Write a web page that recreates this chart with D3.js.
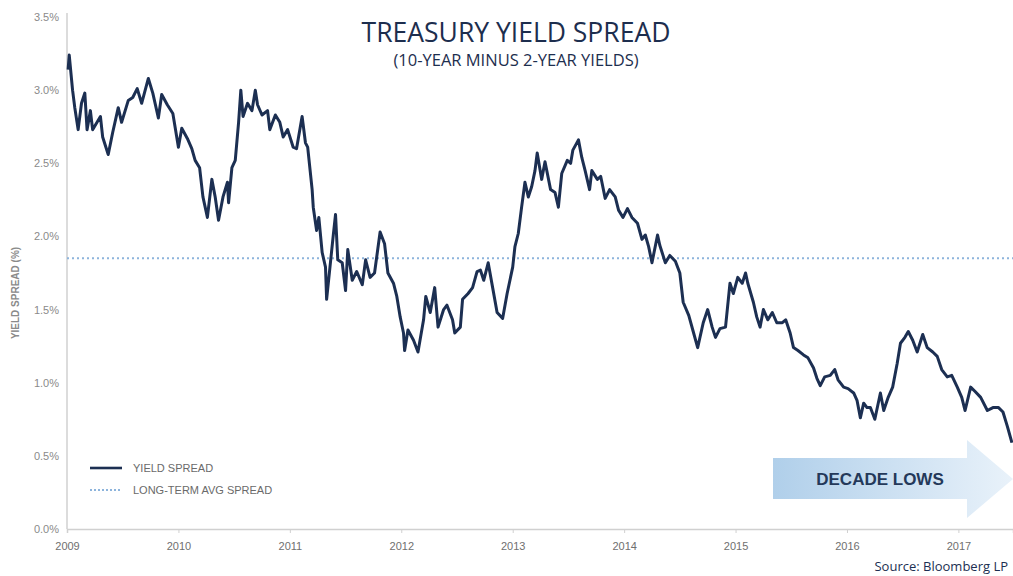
<!DOCTYPE html>
<html>
<head>
<meta charset="utf-8">
<script src="https://cdn.jsdelivr.net/npm/d3@7"></script>
<style>
  html, body { margin: 0; padding: 0; background: #fff; }
  svg { display: block; }
</style>
</head>
<body>
<svg id="chart" width="1013" height="576"></svg>
<script>
// decimal year of each reading
const dates = [
  2009.01, 2009.02, 2009.05, 2009.07, 2009.10, 2009.13, 2009.16, 2009.18, 2009.21, 2009.23,
  2009.30, 2009.32, 2009.37, 2009.41, 2009.46, 2009.49, 2009.55, 2009.59, 2009.63, 2009.67,
  2009.73, 2009.77, 2009.82, 2009.85, 2009.90, 2009.95, 2010.00, 2010.03, 2010.08, 2010.12,
  2010.15, 2010.19, 2010.22, 2010.26, 2010.30, 2010.33, 2010.36, 2010.40, 2010.44, 2010.45,
  2010.48, 2010.51, 2010.54, 2010.56, 2010.58, 2010.62, 2010.66, 2010.69, 2010.71, 2010.75,
  2010.80, 2010.82, 2010.87, 2010.91, 2010.94, 2010.98, 2011.03, 2011.06, 2011.11, 2011.14,
  2011.16, 2011.20, 2011.21, 2011.24, 2011.26, 2011.29, 2011.32, 2011.33, 2011.36, 2011.39,
  2011.41, 2011.43, 2011.47, 2011.50, 2011.52, 2011.56, 2011.60, 2011.65, 2011.68, 2011.72,
  2011.76, 2011.81, 2011.85, 2011.88, 2011.93, 2011.96, 2011.99, 2012.02, 2012.03, 2012.06,
  2012.11, 2012.15, 2012.20, 2012.22, 2012.26, 2012.30, 2012.33, 2012.38, 2012.41, 2012.46,
  2012.48, 2012.53, 2012.55, 2012.60, 2012.64, 2012.68, 2012.71, 2012.74, 2012.78, 2012.82,
  2012.86, 2012.91, 2012.95, 2013.00, 2013.02, 2013.05, 2013.08, 2013.11, 2013.14, 2013.17,
  2013.20, 2013.22, 2013.26, 2013.29, 2013.34, 2013.38, 2013.41, 2013.44, 2013.49, 2013.52,
  2013.54, 2013.59, 2013.62, 2013.65, 2013.69, 2013.71, 2013.76, 2013.79, 2013.83, 2013.87,
  2013.92, 2013.95, 2013.99, 2014.03, 2014.07, 2014.12, 2014.16, 2014.19, 2014.22, 2014.25,
  2014.30, 2014.32, 2014.37, 2014.41, 2014.46, 2014.50, 2014.53, 2014.58, 2014.62, 2014.66,
  2014.71, 2014.75, 2014.79, 2014.82, 2014.86, 2014.91, 2014.95, 2014.98, 2015.02, 2015.06,
  2015.09, 2015.11, 2015.16, 2015.19, 2015.22, 2015.25, 2015.29, 2015.33, 2015.37, 2015.42,
  2015.45, 2015.49, 2015.52, 2015.56, 2015.61, 2015.65, 2015.70, 2015.73, 2015.76, 2015.80,
  2015.85, 2015.89, 2015.92, 2015.97, 2016.01, 2016.06, 2016.09, 2016.12, 2016.15, 2016.18,
  2016.21, 2016.25, 2016.30, 2016.33, 2016.37, 2016.41, 2016.45, 2016.48, 2016.52, 2016.55,
  2016.59, 2016.63, 2016.68, 2016.72, 2016.77, 2016.81, 2016.85, 2016.90, 2016.94, 2016.99,
  2017.03, 2017.06, 2017.11, 2017.15, 2017.20, 2017.26, 2017.31, 2017.36, 2017.40, 2017.44,
  2017.48
];

// 10y minus 2y spread, %
const spread = [
  3.14, 3.24, 3.00, 2.88, 2.73, 2.91, 2.98, 2.73, 2.86, 2.73,
  2.82, 2.68, 2.56, 2.71, 2.88, 2.78, 2.93, 2.95, 3.01, 2.91,
  3.08, 2.98, 2.81, 2.97, 2.90, 2.84, 2.61, 2.74, 2.67, 2.60,
  2.52, 2.47, 2.27, 2.13, 2.39, 2.27, 2.11, 2.27, 2.37, 2.23,
  2.47, 2.52, 2.78, 3.00, 2.82, 2.91, 2.86, 3.00, 2.90, 2.83,
  2.86, 2.73, 2.83, 2.78, 2.68, 2.73, 2.61, 2.60, 2.82, 2.64,
  2.61, 2.32, 2.20, 2.04, 2.13, 1.89, 1.79, 1.57, 1.79, 2.01,
  2.15, 1.84, 1.82, 1.63, 1.91, 1.70, 1.76, 1.67, 1.84, 1.72,
  1.75, 2.03, 1.95, 1.75, 1.68, 1.59, 1.45, 1.34, 1.22, 1.36,
  1.29, 1.21, 1.43, 1.59, 1.48, 1.65, 1.38, 1.50, 1.53, 1.43,
  1.34, 1.38, 1.57, 1.61, 1.65, 1.76, 1.77, 1.70, 1.82, 1.65,
  1.48, 1.44, 1.61, 1.79, 1.93, 2.02, 2.20, 2.37, 2.27, 2.34,
  2.45, 2.57, 2.39, 2.51, 2.32, 2.30, 2.20, 2.43, 2.52, 2.50,
  2.59, 2.66, 2.54, 2.45, 2.32, 2.45, 2.39, 2.41, 2.26, 2.32,
  2.27, 2.18, 2.13, 2.19, 2.13, 2.09, 1.98, 2.01, 1.93, 1.82,
  2.01, 1.94, 1.82, 1.87, 1.83, 1.75, 1.55, 1.46, 1.35, 1.24,
  1.41, 1.50, 1.38, 1.31, 1.37, 1.38, 1.68, 1.61, 1.72, 1.68,
  1.75, 1.68, 1.55, 1.45, 1.38, 1.50, 1.43, 1.48, 1.41, 1.41,
  1.43, 1.34, 1.24, 1.22, 1.19, 1.17, 1.10, 1.03, 0.98, 1.04,
  1.05, 1.09, 1.02, 0.97, 0.96, 0.93, 0.88, 0.76, 0.86, 0.83,
  0.83, 0.75, 0.93, 0.81, 0.90, 0.97, 1.13, 1.27, 1.31, 1.35,
  1.29, 1.21, 1.33, 1.24, 1.21, 1.18, 1.09, 1.04, 1.05, 0.97,
  0.90, 0.81, 0.97, 0.94, 0.90, 0.81, 0.83, 0.83, 0.80, 0.70,
  0.59
];

const longTermAvg = 1.85;
const yTicks = [0, 0.5, 1.0, 1.5, 2.0, 2.5, 3.0, 3.5];
const xTicks = [2009, 2010, 2011, 2012, 2013, 2014, 2015, 2016, 2017];

const data = dates.map((d, i) => ({ date: d, value: spread[i] }));

const svg = d3.select('#chart');
const width = 1013;
const height = 576;
const margin = { top: 17, right: 0, bottom: 47, left: 67 };
const innerWidth = width - margin.left - margin.right;
const innerHeight = height - margin.top - margin.bottom;

const navy = '#1c2f52';
const axisGrey = '#d0d0d0';
const labelGrey = '#8a8a8a';

const x = d3.scaleLinear().domain([2009, 2017.49]).range([0, innerWidth]);
const y = d3.scaleLinear().domain([0, 3.5]).range([innerHeight, 0]);

const g = svg.append('g').attr('transform', `translate(${margin.left},${margin.top})`);

// axes
const yAxis = g.append('g')
  .call(d3.axisLeft(y).tickValues(yTicks).tickSize(0).tickPadding(8).tickFormat((d) => d3.format('.1f')(d) + '%'));
yAxis.select('.domain').attr('stroke', axisGrey).attr('stroke-width', 1.5).attr('d', `M0,${innerHeight}V-4`);
yAxis.selectAll('text')
  .attr('fill', labelGrey)
  .attr('font-family', 'Liberation Sans, Arial, sans-serif')
  .attr('font-size', '11px');

const xAxis = g.append('g')
  .attr('transform', `translate(0,${innerHeight})`)
  .call(d3.axisBottom(x).tickValues(xTicks).tickSize(4).tickPadding(9).tickFormat(d3.format('d')));
xAxis.select('.domain').attr('stroke', axisGrey).attr('stroke-width', 1.5);
xAxis.selectAll('line').attr('stroke', axisGrey);
xAxis.selectAll('text')
  .attr('fill', '#6f6f6f')
  .attr('font-family', 'Liberation Sans, Arial, sans-serif')
  .attr('font-size', '11px');

svg.append('text')
  .attr('transform', `translate(19,${margin.top + innerHeight / 2 + 20}) rotate(-90)`)
  .attr('text-anchor', 'middle')
  .attr('font-family', 'Liberation Sans, Arial, sans-serif')
  .attr('font-size', '10px')
  .attr('font-weight', 'bold')
  .attr('fill', labelGrey)
  .text('YIELD SPREAD (%)');

// long-term average
g.append('line')
  .attr('x1', 0)
  .attr('x2', innerWidth)
  .attr('y1', y(longTermAvg))
  .attr('y2', y(longTermAvg))
  .attr('stroke', '#8db4dc')
  .attr('stroke-width', 2)
  .attr('stroke-dasharray', '2,3');

// the spread line
const line = d3.line().x((d) => x(d.date)).y((d) => y(d.value));
g.append('path')
  .datum(data)
  .attr('fill', 'none')
  .attr('stroke', navy)
  .attr('stroke-width', 3)
  .attr('stroke-linejoin', 'round')
  .attr('d', line);

// titles
svg.append('text')
  .attr('x', 516)
  .attr('y', 42)
  .attr('text-anchor', 'middle')
  .attr('font-family', 'Open Sans, sans-serif')
  .attr('font-size', '26.5px')
  .attr('fill', '#1d2e4e')
  .text('TREASURY YIELD SPREAD');

svg.append('text')
  .attr('x', 516)
  .attr('y', 66)
  .attr('text-anchor', 'middle')
  .attr('font-family', 'Open Sans, sans-serif')
  .attr('font-size', '16.5px')
  .attr('font-weight', 500)
  .attr('fill', '#1d2e4e')
  .text('(10-YEAR MINUS 2-YEAR YIELDS)');

// legend
const legend = svg.append('g').attr('transform', 'translate(90,468)');
legend.append('line').attr('x1', 0).attr('x2', 32).attr('y1', 0).attr('y2', 0)
  .attr('stroke', navy).attr('stroke-width', 2.6);
legend.append('line').attr('x1', 0).attr('x2', 32).attr('y1', 22).attr('y2', 22)
  .attr('stroke', '#8db4dc').attr('stroke-width', 2).attr('stroke-dasharray', '2,2');
legend.selectAll('text')
  .data(['YIELD SPREAD', 'LONG-TERM AVG SPREAD'])
  .enter()
  .append('text')
  .attr('x', 43)
  .attr('y', (d, i) => i * 22 + 4)
  .attr('font-family', 'Liberation Sans, Arial, sans-serif')
  .attr('font-size', '11px')
  .attr('fill', '#6a6a6a')
  .text((d) => d);

// "decade lows" arrow
const defs = svg.append('defs');
const grad = defs.append('linearGradient').attr('id', 'arrowGrad').attr('x1', 0).attr('x2', 1).attr('y1', 0).attr('y2', 0);
grad.append('stop').attr('offset', '0%').attr('stop-color', '#b0cfea');
grad.append('stop').attr('offset', '100%').attr('stop-color', '#e9f2fa');

svg.append('path')
  .attr('d', 'M773,458 H967 V440 L1013,479 L967,518 V499 H773 Z')
  .attr('fill', 'url(#arrowGrad)');

svg.append('text')
  .attr('x', 880)
  .attr('y', 485)
  .attr('text-anchor', 'middle')
  .attr('font-family', 'Liberation Sans, Arial, sans-serif')
  .attr('font-size', '17px')
  .attr('font-weight', 'bold')
  .attr('fill', '#24395a')
  .text('DECADE LOWS');

svg.append('text')
  .attr('x', 1008)
  .attr('y', 571)
  .attr('text-anchor', 'end')
  .attr('font-family', 'Open Sans, sans-serif')
  .attr('font-size', '13px')
  .attr('fill', navy)
  .text('Source: Bloomberg LP');
</script>
</body>
</html>
